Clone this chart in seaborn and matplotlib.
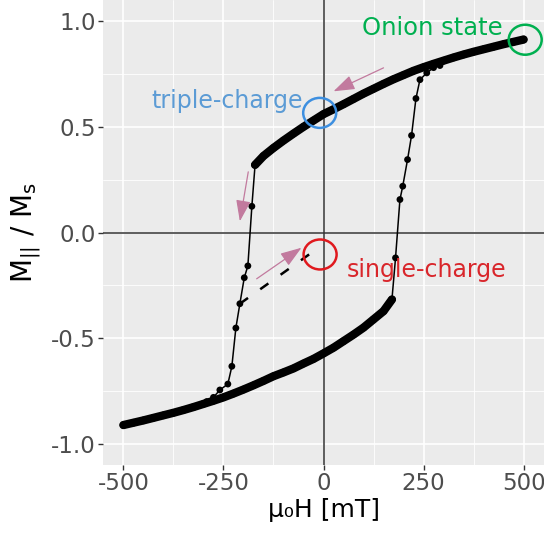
import matplotlib
matplotlib.use("Agg")
import matplotlib.pyplot as plt
from matplotlib.patches import Ellipse
import seaborn as sns
import pandas as pd

# upper branch (coming down from +500 mT)
field_up = [-171, -150, -125, -100, -75, -50, -25, 0, 25, 50, 75, 100, 125, 150,
            175, 200, 225, 250, 275, 300, 325, 350, 375, 400, 425, 450, 475, 500]
m_up = [0.32, 0.362, 0.40, 0.435, 0.468, 0.50, 0.53, 0.56, 0.583, 0.607, 0.632, 0.657, 0.68, 0.703,
        0.725, 0.745, 0.765, 0.782, 0.798, 0.813, 0.828, 0.842, 0.855, 0.867, 0.879, 0.891, 0.902, 0.913]

# lower branch (coming up from -500 mT)
field_down = [-500, -475, -450, -425, -400, -375, -350, -325, -300, -275, -250, -225, -200, -175,
              -150, -125, -100, -75, -50, -25, 0, 25, 50, 75, 100, 125, 150, 171]
m_down = [-0.911, -0.90, -0.889, -0.877, -0.865, -0.853, -0.84, -0.826, -0.811, -0.796, -0.78, -0.762, -0.743, -0.723,
          -0.702, -0.68, -0.662, -0.643, -0.62, -0.598, -0.572, -0.545, -0.514, -0.483, -0.45, -0.411, -0.372, -0.317]

# switching branches (thin line with points)
field_sw_left = [-171, -179, -189, -198, -209, -219, -229, -239, -259, -275, -292]
m_sw_left = [0.32, 0.124, -0.158, -0.214, -0.337, -0.452, -0.633, -0.717, -0.745, -0.78, -0.80]
field_sw_right = [171, 180, 191, 198, 210, 220, 231, 241, 258, 275, 291]
m_sw_right = [-0.317, -0.12, 0.156, 0.219, 0.345, 0.459, 0.634, 0.723, 0.755, 0.78, 0.79]

# dashed minor loop towards single-charge state
field_dash = [-209, -22]
m_dash = [-0.337, -0.085]

xticks = [-500, -250, 0, 250, 500]
xtick_labels = ["-500", "-250", "0", "250", "500"]
yticks = [-1.0, -0.5, 0.0, 0.5, 1.0]
ytick_labels = ["-1.0", "-0.5", "0.0", "0.5", "1.0"]

# state markers: name, colour, centre
states = ["Onion state", "triple-charge", "single-charge"]
state_colors = ["#00B050", "#3D8FE0", "#E0191E"]
state_x = [504, -9.5, -8.5]
state_y = [0.912, 0.566, -0.104]
label_x = [96, -430, 59]
label_y = [0.936, 0.59, -0.21]
label_colors = ["#00B050", "#5B9BD5", "#D9262B"]

# arrows (start -> tip)
arrow_start = [(150, 0.779), (-188, 0.287), (-167, -0.219)]
arrow_tip = [(25, 0.668), (-209, 0.053), (-55, -0.072)]

up_df = pd.DataFrame({"field": field_up, "m": m_up})
down_df = pd.DataFrame({"field": field_down, "m": m_down})
swl_df = pd.DataFrame({"field": field_sw_left, "m": m_sw_left})
swr_df = pd.DataFrame({"field": field_sw_right, "m": m_sw_right})

sns.set_theme(style="darkgrid", rc={"axes.facecolor": "#EBEBEB", "grid.color": "white"})
plt.rcParams['font.family'] = ['DejaVu Sans']
plt.rcParams['mathtext.default'] = 'regular'

fig = plt.figure(figsize=(5.44, 5.35), dpi=100)
fig.patch.set_facecolor("white")
ax = fig.add_axes([103 / 544, 70 / 535, 441 / 544, 465 / 535])

ax.axhline(0, color="#333333", lw=1.1, zorder=1.5)
ax.axvline(0, color="#333333", lw=1.1, zorder=1.5)

# thick branches
for df in [up_df, down_df]:
    sns.lineplot(data=df, x="field", y="m", sort=False, color="black", lw=6,
                 solid_capstyle="round", solid_joinstyle="round", ax=ax, zorder=3)
    sns.scatterplot(data=df, x="field", y="m", color="black", s=30, edgecolor="none", ax=ax, zorder=3)

# switching branches
for df in [swl_df, swr_df]:
    sns.lineplot(data=df, x="field", y="m", sort=False, color="black", lw=1.1, ax=ax, zorder=3)
    sns.scatterplot(data=df, x="field", y="m", color="black", s=24, edgecolor="none", ax=ax, zorder=3)

ax.plot(field_dash, m_dash, color="black", lw=1.8, linestyle=(0, (4, 6)), zorder=3)

# arrows
for st, tp in zip(arrow_start, arrow_tip):
    ax.annotate("", xy=tp, xytext=st,
                arrowprops=dict(arrowstyle="-|>,head_length=1.3,head_width=0.45",
                                color="#C27A9E", lw=0.9, mutation_scale=10, shrinkA=0, shrinkB=0),
                zorder=4)

# state circles and labels
for name, c, cx, cy, lx, ly, lc in zip(states, state_colors, state_x, state_y, label_x, label_y, label_colors):
    ax.add_patch(Ellipse((cx, cy), width=33 / 0.4, height=30 / 211.5, fill=False,
                         edgecolor=c, lw=1.8, zorder=5))
    fs = 17.5 if name == "Onion state" else 17
    ax.text(lx, ly, name, color=lc, fontsize=fs, ha="left", va="baseline", zorder=5)

ax.set_xlim(-551, 551)
ax.set_ylim(-1.1, 1.1)
ax.set_xticks(xticks)
ax.set_xticklabels(xtick_labels)
ax.set_yticks(yticks)
ax.set_yticklabels(ytick_labels)
ax.set_xticks([-375, -125, 125, 375], minor=True)
ax.set_yticks([-0.75, -0.25, 0.25, 0.75], minor=True)
ax.grid(which="major", color="white", lw=1.2)
ax.grid(which="minor", color="white", lw=0.6)
ax.tick_params(which="major", length=3.5, width=1, color="#333333", labelsize=16.5,
               labelcolor="#4D4D4D", pad=1.5, bottom=True, left=True)
ax.tick_params(which="minor", length=0)
for sp in ax.spines.values():
    sp.set_visible(False)

ax.set_xlabel("μ₀H [mT]", fontsize=18, color="black", labelpad=2)
ax.set_ylabel(r"$M_{||}\ /\ M_s$", fontsize=20, color="black", labelpad=6)

fig.savefig("out.png", dpi=100)
